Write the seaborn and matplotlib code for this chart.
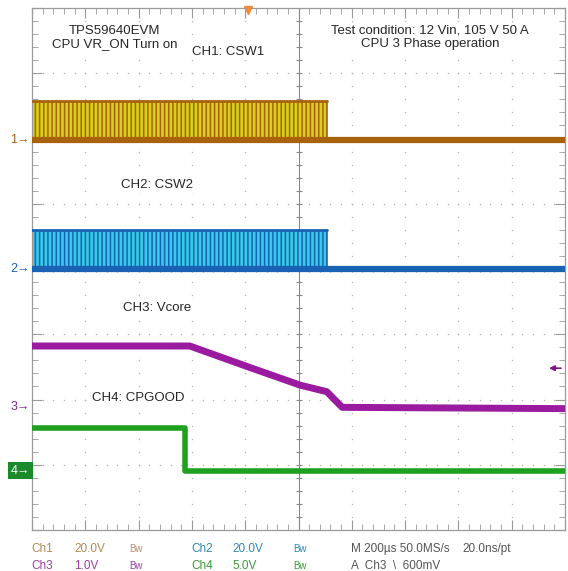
import matplotlib
matplotlib.use('Agg')
import matplotlib.pyplot as plt
import seaborn as sns
import numpy as np
import pandas as pd

# scope settings (volts/div and ground offset in divisions)
ch_names = ['CH1', 'CH2', 'CH3', 'CH4']
ch_scale = [20.0, 20.0, 1.0, 5.0]
ch_offset = [1.97, 0.0, -2.12, -3.09]

# time base: 200 us/div, trigger at t = 0
t_left = -810
t_right = 1190
us_per_div = 200

# CH1 / CH2 switch nodes: switching until turn-off, then idle
sw_stop = 296
sw_high = [12.0, 12.0]

# CH3 Vcore
ch3_t = [-810, -218, 8, 196, 296, 354, 1190]
ch3_v = [0.94, 0.94, 0.61, 0.34, 0.24, 0.0, -0.02]

# CH4 CPGOOD
ch4_t = [-810, -236, -236, 1190]
ch4_v = [3.3, 3.3, 0.0, 0.0]

trig_level = 0.6

sns.set_style('white')
plt.rcParams['font.family'] = ['Liberation Sans', 'DejaVu Sans']
plt.rcParams['hatch.linewidth'] = 1.1

def to_div(v, ch):
    return np.asarray(v) / ch_scale[ch] + ch_offset[ch]

fig = plt.figure(figsize=(5.68, 5.71), dpi=100)
ax = fig.add_axes([32/568, 1 - 530/571, 533/568, 522/571])
ax.set_xlim(t_left, t_right)
ax.set_ylim(-4, 4)

# graticule
xmaj = np.arange(t_left, t_right + 1, us_per_div)
ymaj = np.arange(-4, 5, 1)
xmin = np.arange(t_left, t_right + 1, us_per_div / 5)
ymin = np.arange(-4, 4.01, 0.2)
t_center = (t_left + t_right) / 2
for x in xmaj[1:-1]:
    if x != t_center:
        ax.scatter(np.full(len(ymin), x), ymin, s=1.2, color='#b8b8b8', lw=0, zorder=1)
for y in ymaj[1:-1]:
    if y != 0:
        ax.scatter(xmin, np.full(len(xmin), y), s=1.2, color='#b8b8b8', lw=0, zorder=1)
ax.axvline(t_center, color='#8a8a8a', lw=0.8, zorder=1)
ax.axhline(0, color='#8a8a8a', lw=0.8, zorder=1)
ax.scatter(np.full(len(ymin), t_center), ymin, marker='_', s=18, color='#8a8a8a', lw=0.8, zorder=1)
ax.scatter(xmin, np.zeros(len(xmin)), marker='|', s=18, color='#8a8a8a', lw=0.8, zorder=1)

ax.set_xticks(xmaj)
ax.set_yticks(ymaj)
ax.set_xticks(xmin, minor=True)
ax.set_yticks(ymin, minor=True)
ax.tick_params(which='both', direction='in', top=True, right=True, bottom=True, left=True,
               labelbottom=False, labelleft=False, color='#9a9a9a')
ax.tick_params(which='major', length=7, width=0.8)
ax.tick_params(which='minor', length=4, width=0.6)
for s in ax.spines.values():
    s.set_color('#9a9a9a')
    s.set_linewidth(0.9)

# switch node bands
sw_colors = [('#d8cf1e', '#a8620c'), ('#36cbe8', '#1a62b4')]
for ch in (0, 1):
    face, edge = sw_colors[ch]
    plt.rcParams['hatch.color'] = edge
    band_t = [t_left, sw_stop]
    ax.fill_between(band_t, to_div([0, 0], ch), to_div([sw_high[ch]] * 2, ch),
                    facecolor=face, edgecolor=edge, hatch='||||', lw=0, zorder=2)
    top = pd.DataFrame({'t': band_t, 'y': to_div([sw_high[ch]] * 2, ch)})
    sns.lineplot(data=top, x='t', y='y', ax=ax, color=edge, lw=2, zorder=3)
    for xe in band_t[1:]:
        ax.plot([xe, xe], to_div([0, sw_high[ch]], ch), color=edge, lw=1.2, zorder=3)
    base = pd.DataFrame({'t': [t_left, t_right], 'y': to_div([0, 0], ch)})
    sns.lineplot(data=base, x='t', y='y', ax=ax, color=edge, lw=4.5, zorder=3)

# Vcore
df3 = pd.DataFrame({'t': ch3_t, 'y': to_div(ch3_v, 2)})
sns.lineplot(data=df3, x='t', y='y', ax=ax, color='#9a1aa0', lw=5, sort=False,
             estimator=None, zorder=4)

# CPGOOD
df4 = pd.DataFrame({'t': ch4_t, 'y': to_div(ch4_v, 3)})
sns.lineplot(data=df4, x='t', y='y', ax=ax, color='#1fa01f', lw=4, sort=False,
             estimator=None, zorder=4)
ax.set_xlabel('')
ax.set_ylabel('')

# trigger markers
ax.plot(0, 3.97, marker='v', color='#f08a3c', ms=6, clip_on=False, zorder=6)
ax.annotate('', xy=(t_right - 60, to_div(trig_level, 2)),
            xytext=(t_right - 15, to_div(trig_level, 2)),
            arrowprops=dict(arrowstyle='-|>', color='#7a1a80', lw=1.2, mutation_scale=8,
                            shrinkA=0, shrinkB=0))

# channel ground markers
mk_colors = ['#a8620c', '#1a62b4', '#7a2a90', '#ffffff']
for ch in range(4):
    if ch == 3:
        ax.text(-0.004, ch_offset[ch], '4\u2192', transform=ax.get_yaxis_transform(),
                ha='right', va='center', fontsize=9, color='white',
                bbox=dict(facecolor='#1c8a2a', edgecolor='none', pad=2))
    else:
        ax.text(-0.004, ch_offset[ch], f'{ch + 1}\u2192', transform=ax.get_yaxis_transform(),
                ha='right', va='center', fontsize=9, color=mk_colors[ch])

# annotations
box = dict(facecolor='white', edgecolor='none', pad=1)
ax.text(-500, 3.55, 'TPS59640EVM\nCPU VR_ON Turn on', ha='center', va='center',
        fontsize=9.5, linespacing=1.15, bbox=box, zorder=5)
ax.text(-75, 3.32, 'CH1: CSW1', ha='center', va='center', fontsize=9.5, bbox=box, zorder=5)
ax.text(683, 3.55, 'Test condition: 12 Vin, 105 V 50 A\nCPU 3 Phase operation',
        ha='center', va='center', fontsize=9.5, linespacing=1.15, bbox=box, zorder=5)
ax.text(-340, 1.29, 'CH2: CSW2', ha='center', va='center', fontsize=9.5, bbox=box, zorder=5)
ax.text(-340, -0.6, 'CH3: Vcore', ha='center', va='center', fontsize=9.5, bbox=box, zorder=5)
ax.text(-412, -1.98, 'CH4: CPGOOD', ha='center', va='center', fontsize=9.5, bbox=box, zorder=5)

# status bar
row1 = 1 - 549/571
row2 = 1 - 566/571
status = [
    (31, row1, 'Ch1', '#b08a50', 8.5), (74, row1, '20.0V', '#b08a50', 8.5), (129, row1, 'Bw', '#c08a70', 7),
    (191, row1, 'Ch2', '#2f88b0', 8.5), (232, row1, '20.0V', '#2f88b0', 8.5), (293, row1, 'Bw', '#2f88b0', 7),
    (351, row1, 'M 200\u00b5s 50.0MS/s', '#555555', 8.5), (462, row1, '20.0ns/pt', '#555555', 8.5),
    (31, row2, 'Ch3', '#9a40a0', 8.5), (74, row2, '1.0V', '#9a40a0', 8.5), (129, row2, 'Bw', '#9a40a0', 7),
    (191, row2, 'Ch4', '#3a9a3a', 8.5), (232, row2, '5.0V', '#3a9a3a', 8.5), (293, row2, 'Bw', '#3a9a3a', 7),
    (351, row2, 'A  Ch3  \\  600mV', '#555555', 8.5),
]
for px, py, txt, col, fs in status:
    fig.text(px / 568, py, txt, color=col, fontsize=fs, ha='left', va='center')

fig.savefig('out.png', dpi=100, facecolor='white')
